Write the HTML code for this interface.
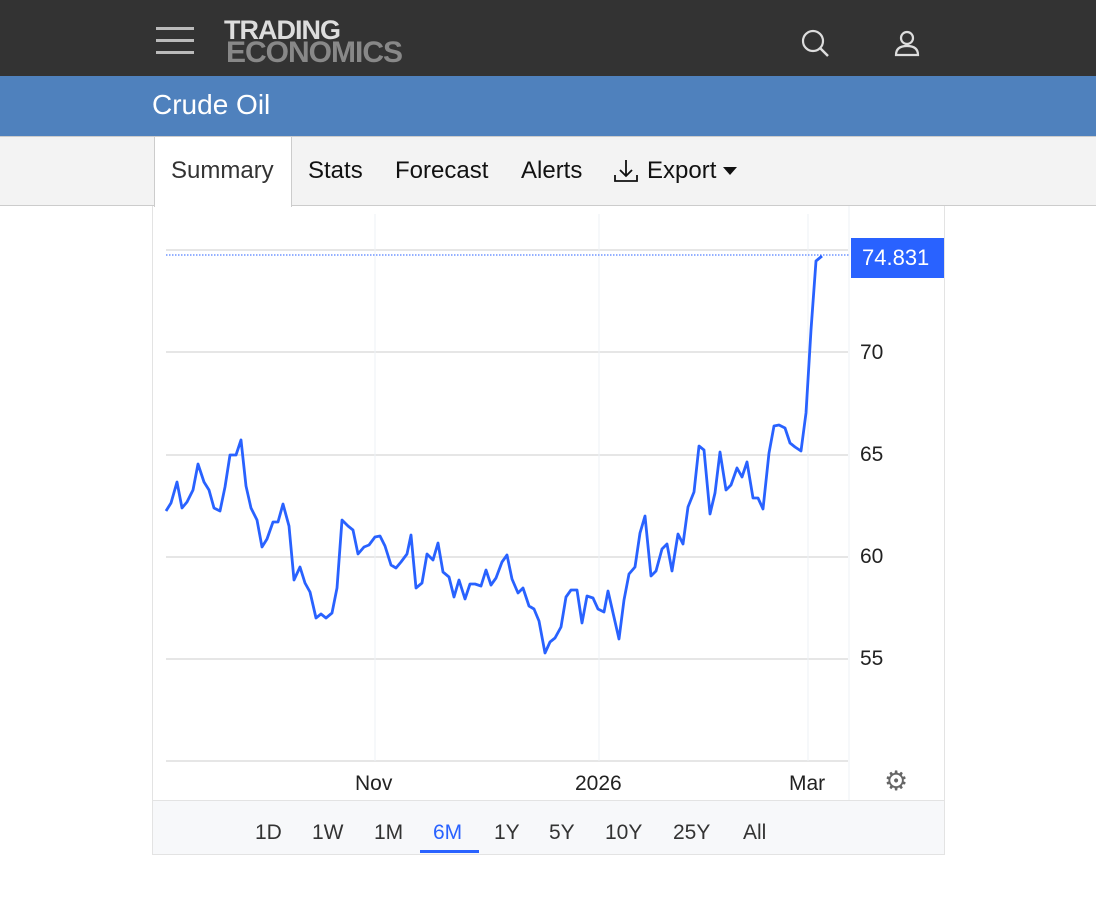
<!DOCTYPE html>
<html><head><meta charset="utf-8"><style>
*{margin:0;padding:0;box-sizing:border-box}
body{width:1096px;height:901px;background:#fff;font-family:"Liberation Sans",Arial,sans-serif;position:relative;overflow:hidden}
.a{position:absolute}
</style></head><body>
<div class="a" style="left:0;top:0;width:1096px;height:76px;background:#333"></div>
<div class="a" style="left:156px;top:27px;width:38px;height:3px;background:#bbb"></div>
<div class="a" style="left:156px;top:39px;width:38px;height:3px;background:#bbb"></div>
<div class="a" style="left:156px;top:51px;width:38px;height:3px;background:#bbb"></div>
<div class="a" style="left:224px;top:18px;font-weight:bold;font-size:27px;color:#ddd;letter-spacing:-1px;line-height:24px">TRADING</div>
<div class="a" style="left:226px;top:40px;font-weight:bold;font-size:30px;color:#888;letter-spacing:-1px;line-height:26px">ECONOMICS</div>
<svg class="a" style="left:800px;top:28px" width="32" height="32"><circle cx="13" cy="13" r="10" fill="none" stroke="#ddd" stroke-width="2.2"/><line x1="20" y1="20" x2="28" y2="28" stroke="#ddd" stroke-width="2.5"/></svg>
<svg class="a" style="left:892px;top:28px" width="32" height="32"><circle cx="15" cy="10" r="6" fill="none" stroke="#ddd" stroke-width="2.2"/><path d="M4 27 Q4 18 15 18 Q26 18 26 27 Z" fill="none" stroke="#ddd" stroke-width="2.2"/></svg>
<div class="a" style="left:0;top:76px;width:1096px;height:60px;background:#4f81bd"></div>
<div class="a" style="left:152px;top:89px;font-size:28px;color:#fff">Crude Oil</div>
<div class="a" style="left:0;top:136px;width:1096px;height:70px;background:#f3f3f3;border-top:1px solid #ccc;border-bottom:1px solid #ccc"></div>
<div class="a" style="left:154px;top:137px;width:138px;height:70px;background:#fff;border-left:1px solid #ccc;border-right:1px solid #ccc"></div>
<div class="a" style="left:171px;top:157px;font-size:24px;color:#333">Summary</div>
<div class="a" style="left:308px;top:157px;font-size:24px;color:#111">Stats</div>
<div class="a" style="left:395px;top:157px;font-size:24px;color:#111">Forecast</div>
<div class="a" style="left:521px;top:157px;font-size:24px;color:#111">Alerts</div>
<svg class="a" style="left:613px;top:158px" width="28" height="28"><path d="M13 2V18M7 12L13 18L19 12M2 17V23H24V17" fill="none" stroke="#111" stroke-width="1.8"/></svg>
<div class="a" style="left:647px;top:157px;font-size:24px;color:#111">Export</div>
<svg class="a" style="left:723px;top:166px" width="14" height="10"><path d="M0 1H14L7 9Z" fill="#111"/></svg>
<div class="a" style="left:152px;top:206px;width:793px;height:649px;border:1px solid #e3e3e3;border-top:none"></div>
<svg class="a" style="left:0;top:0" width="1096" height="901">
<g stroke="#e6e6e6" stroke-width="2"><line x1="166" y1="352" x2="848" y2="352"/><line x1="166" y1="455" x2="848" y2="455"/><line x1="166" y1="557" x2="848" y2="557"/><line x1="166" y1="659" x2="848" y2="659"/><line x1="166" y1="250" x2="848" y2="250"/><line x1="166" y1="761" x2="848" y2="761"/></g>
<g stroke="#eef1f6" stroke-width="1"><line x1="375" y1="214" x2="375" y2="761"/><line x1="599" y1="214" x2="599" y2="761"/><line x1="808" y1="214" x2="808" y2="761"/><line x1="849" y1="206" x2="849" y2="800"/></g>
<line x1="166" y1="255" x2="850" y2="255" stroke="#2962ff" stroke-width="1" stroke-dasharray="1.5,1.5"/>
<polyline fill="none" stroke="#2962ff" stroke-width="2.8" stroke-linejoin="round" points="166,511 171,503 177,482 182,508 187,502 193,490 198,464 204,482 209,490 214,508 220,511 225,487 230,455 236,455 241,440 246,486 251,508 257,520 262,547 267,539 273,522 278,522 283,504 289,526 294,580 300,567 305,583 310,592 316,618 321,614 326,618 332,613 337,588 342,520 348,526 353,530 358,554 364,547 369,545 375,537 380,536 385,546 391,565 396,568 401,562 407,554 411,535 416,588 422,583 427,554 433,560 438,543 443,572 449,577 454,597 459,580 465,599 470,584 475,584 481,586 486,570 491,585 496,578 502,562 507,555 512,579 518,593 523,588 529,606 534,609 539,621 545,653 550,642 555,638 561,627 566,597 571,590 577,590 582,623 587,596 593,598 598,609 604,612 608,591 619,639 624,600 629,574 635,567 640,533 645,516 651,576 656,571 662,549 667,544 672,571 678,534 683,544 688,507 694,492 699,446 704,450 710,514 715,493 720,452 726,490 731,485 737,468 742,477 747,462 753,498 758,498 763,509 769,453 774,426 779,425 785,428 790,443 795,447 801,451 806,413 811,330 816,261 822,256"/>
</svg>
<div class="a" style="left:851px;top:238px;width:93px;height:40px;background:#2962ff;color:#fff;font-size:22px;line-height:40px;padding-left:11px">74.831</div>
<div class="a" style="left:860px;top:341px;font-size:21px;color:#222">70</div>
<div class="a" style="left:860px;top:443px;font-size:21px;color:#222">65</div>
<div class="a" style="left:860px;top:545px;font-size:21px;color:#222">60</div>
<div class="a" style="left:860px;top:647px;font-size:21px;color:#222">55</div>
<div class="a" style="left:355px;top:772px;font-size:21px;color:#222">Nov</div>
<div class="a" style="left:575px;top:772px;font-size:21px;color:#222">2026</div>
<div class="a" style="left:789px;top:772px;font-size:21px;color:#222">Mar</div>
<div class="a" style="left:884px;top:767px;font-size:27px;color:#666;line-height:28px">⚙</div>
<div class="a" style="left:153px;top:800px;width:791px;height:54px;background:#f7f8fa;border-top:1px solid #e3e3e3"></div>
<div class="a" style="left:0;top:821px;width:1096px;font-size:21px;color:#333">
<span class="a" style="left:255px">1D</span><span class="a" style="left:312px">1W</span><span class="a" style="left:374px">1M</span><span class="a" style="left:433px;color:#2962ff">6M</span><span class="a" style="left:494px">1Y</span><span class="a" style="left:549px">5Y</span><span class="a" style="left:605px">10Y</span><span class="a" style="left:673px">25Y</span><span class="a" style="left:743px">All</span></div>
<div class="a" style="left:420px;top:850px;width:59px;height:3px;background:#2962ff"></div>
</body></html>
